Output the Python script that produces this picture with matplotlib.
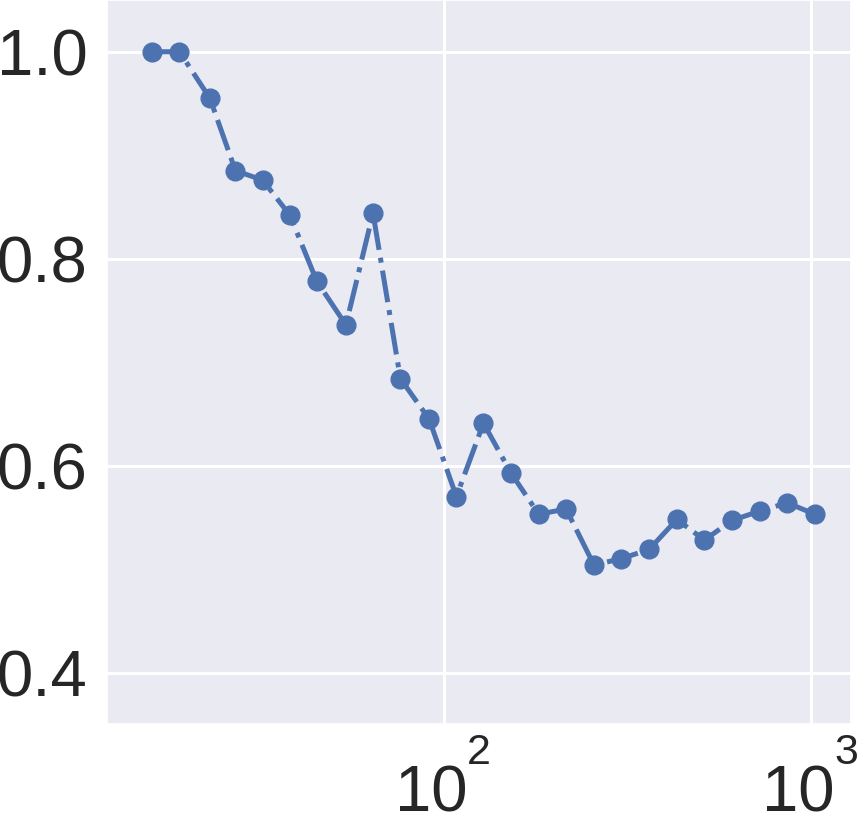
import matplotlib
matplotlib.use('Agg')
import matplotlib.pyplot as plt
import matplotlib.transforms as mtransforms
import seaborn as sns
import numpy as np

sns.set_theme(style='darkgrid')
plt.rcParams['font.family'] = ['Liberation Sans', 'DejaVu Sans']

# data (x on powers of 2 in quarter steps)
n_samples = [16, 19, 23, 27, 32, 38, 45, 54, 64, 76, 91, 108, 128,
             152, 181, 215, 256, 304, 362, 431, 512, 609, 724, 861, 1024]
score = [1.000, 1.000, 0.955, 0.885, 0.876, 0.842, 0.778, 0.736, 0.844,
         0.684, 0.645, 0.570, 0.641, 0.593, 0.553, 0.558, 0.504, 0.510,
         0.519, 0.548, 0.528, 0.547, 0.556, 0.564, 0.553]
yticks = [0.4, 0.6, 0.8, 1.0]
xticks = [100, 1000]

fig = plt.figure(figsize=(8.62, 8.23), dpi=100)
ax = fig.add_axes([0.124, 0.120, 0.863, 0.880])

ax.plot(n_samples, score, linestyle='-.', linewidth=3.6, marker='o',
        markersize=13.5, color='#4C72B0')

ax.set_xscale('log')
ax.set_xlim(12.05, 1283)
ax.set_ylim(0.35, 1.05)
ax.set_yticks(yticks)
ax.set_yticklabels(['%.1f' % v for v in yticks])
ax.set_xticks(xticks)
ax.set_xticklabels([])
ax.grid(True, which='major', color='white', linewidth=2.2)
ax.grid(False, which='minor')
ax.tick_params(axis='both', which='major', labelsize=47)
ax.tick_params(axis='y', pad=8)
ax.tick_params(axis='x', which='minor', bottom=False)

# x labels as 10 with a raised exponent (old-style mathtext look)
base = mtransforms.blended_transform_factory(ax.transData, ax.transAxes)
def shift(dx, dy):
    return base + mtransforms.ScaledTranslation(dx / 100., dy / 100., fig.dpi_scale_trans)

for t in xticks:
    e = int(round(np.log10(t)))
    ax.text(t, 0, '10', transform=shift(-13, -87), ha='center', va='baseline',
            fontsize=47, color='#262626', clip_on=False)
    ax.text(t, 0, str(e), transform=shift(35, -40), ha='center', va='baseline',
            fontsize=31, color='#262626', clip_on=False)

fig.savefig('out.png', dpi=100)
